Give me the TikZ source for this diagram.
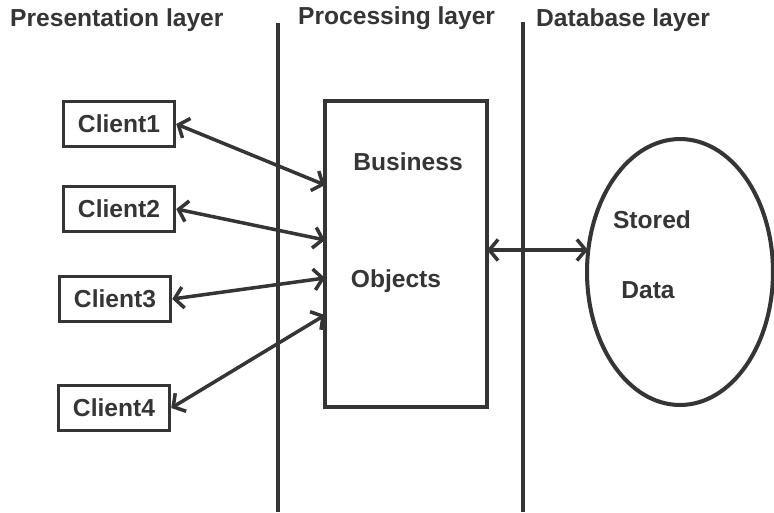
\documentclass[tikz,border=0pt]{standalone}
\usepackage{fontspec}
\setmainfont{Liberation Sans}
\usetikzlibrary{shapes.geometric,arrows.meta}
\definecolor{ink}{HTML}{353535}

\begin{document}
\begin{tikzpicture}[x=0.02cm,y=-0.02cm,
  ink/.style={draw=ink, line width=2pt},
  clientbox/.style={ink, minimum width=2.22cm, minimum height=0.9cm, inner sep=0pt, text=ink, font=\bfseries\fontsize{14}{16}\selectfont},
  layer/.style={anchor=west, font=\bfseries\fontsize{14}{16}\selectfont, text=ink},
  inside/.style={font=\bfseries\fontsize{14}{16}\selectfont, text=ink},
  link/.style={ink, {Straight Barb[length=5pt,width=12pt]}-{Straight Barb[length=5pt,width=12pt]}}]
\useasboundingbox (0,0) rectangle (774,512);

% layer titles and separators
\node[layer] (pres) at (4,20) {Presentation layer};
\node[layer] (proc) at (292,18) {Processing layer};
\node[layer] (dbl) at (530,20) {Database layer};
\coordinate (s1top) at (278,23);
\coordinate (s1bot) at (278,512);
\coordinate (s2top) at (523,22);
\coordinate (s2bot) at (523,512);
\draw[ink] (s1top) -- (s1bot);
\draw[ink] (s2top) -- (s2bot);

% business objects
\node[ink, minimum width=3.24cm, minimum height=6.12cm, inner sep=0pt] (bo) at (406,254) {};
\node[inside] (bus) at (408,162) {Business};
\node[inside] (obj) at (396,281) {Objects};

% stored data
\node[ink, ellipse, line width=2.3pt, minimum width=3.72cm, minimum height=5.32cm, inner sep=0pt] (sd) at (680,272) {};
\node[inside] (sto) at (652,220) {Stored};
\node[inside] (dat) at (648,290) {Data};

% clients
\node[clientbox] (c1) at (119,124) {Client1};
\node[clientbox] (c2) at (119,209) {Client2};
\node[clientbox] (c3) at (115,299) {Client3};
\node[clientbox] (c4) at (114,408) {Client4};

\coordinate (b1) at (325,185);
\coordinate (b2) at (325,240);
\coordinate (b3) at (325,278);
\coordinate (b4) at (325,315);
\foreach \c/\b in {c1/b1,c2/b2,c3/b3,c4/b4}
  \draw[link] (\c.east) -- (\b);

\coordinate (bx) at (487,250);
\coordinate (ex) at (588,250);
\draw[link] (bx) -- (ex);

\end{tikzpicture}
\end{document}
